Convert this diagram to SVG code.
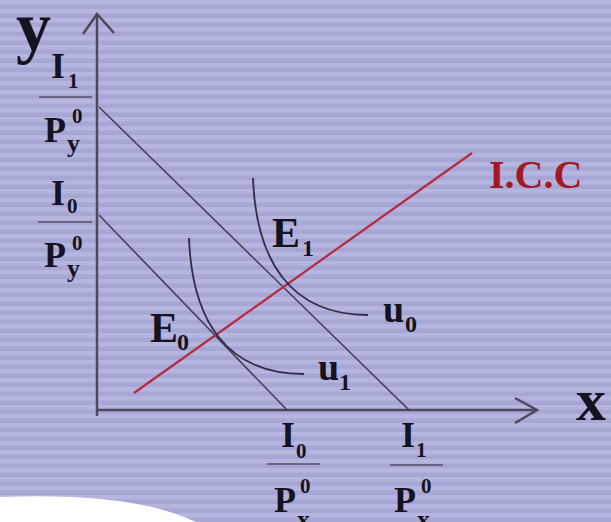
<svg xmlns="http://www.w3.org/2000/svg" width="611" height="522" viewBox="0 0 611 522">
  <defs>
    <pattern id="stripes" x="0" y="0" width="611" height="9" patternUnits="userSpaceOnUse">
      <rect x="0" y="0" width="611" height="9" fill="#b5b5df"/>
      <rect x="0" y="4.5" width="611" height="4.5" fill="#a7a7d6"/>
    </pattern>
  </defs>
  <style>
    .t { font-family: "Liberation Serif", "Times New Roman", serif; font-weight: bold; fill: #141420; }
    .big { font-size: 36px; }
    .sub { font-size: 21px; }
    .sub2 { font-size: 26px; }
    .lab { font-size: 42px; }
    .ax { stroke: #4a4a5c; stroke-width: 2.5; fill: none; }
    .bl { stroke: #3c3c56; stroke-width: 1.5; fill: none; }
    .ic { stroke: #2e2e48; stroke-width: 1.8; fill: none; }
    .bar { stroke: #505068; stroke-width: 1.6; }
  </style>
  <rect width="611" height="522" fill="url(#stripes)"/>
  <path d="M0,497 C80,494 150,500 196,522 L0,522 Z" fill="#ffffff"/>

  <g id="connectors">
    <g id="y-axis">
      <line class="ax" x1="97" y1="14" x2="97" y2="416"/>
      <polyline class="ax" points="83,34 97,14 114,33"/>
    </g>
    <g id="x-axis">
      <line class="ax" x1="97" y1="410" x2="536" y2="410"/>
      <polyline class="ax" points="515,398 537,410 515,423"/>
    </g>
    <line id="budget1" class="bl" x1="99" y1="107" x2="409" y2="410"/>
    <line id="budget0" class="bl" x1="99" y1="215" x2="287" y2="410"/>
    <line id="icc-line" x1="134" y1="393" x2="472" y2="153" stroke="#b52a3c" stroke-width="2.2"/>
    <path id="u0-curve" class="ic" d="M253,178 C256,260 290,315 368,315"/>
    <path id="u1-curve" class="ic" d="M189,238 C192,320 226,374 304,374"/>
  </g>

  <g id="label-y"><text class="t" x="16" y="50" font-size="70">y</text></g>
  <g id="label-x"><text class="t" x="576" y="420" font-size="60">x</text></g>

  <g id="frac-I1-Py">
    <text class="t big" x="51" y="78">I</text>
    <text class="t sub" x="68" y="88">1</text>
    <line class="bar" x1="39" y1="97" x2="92" y2="97"/>
    <text class="t big" x="44" y="142">P</text>
    <text class="t sub" x="72" y="123">0</text>
    <text class="t sub2" x="67" y="152">y</text>
  </g>
  <g id="frac-I0-Py">
    <text class="t big" x="51" y="205">I</text>
    <text class="t sub" x="67" y="213">0</text>
    <line class="bar" x1="38" y1="222" x2="92" y2="222"/>
    <text class="t big" x="44" y="267">P</text>
    <text class="t sub" x="72" y="250">0</text>
    <text class="t sub2" x="67" y="277">y</text>
  </g>
  <g id="frac-I0-Px">
    <text class="t big" x="281" y="447">I</text>
    <text class="t sub" x="296" y="458">0</text>
    <line class="bar" x1="267" y1="464" x2="320" y2="464"/>
    <text class="t big" x="274" y="512">P</text>
    <text class="t sub" x="300" y="493">0</text>
    <text class="t sub2" x="297" y="528">x</text>
  </g>
  <g id="frac-I1-Px">
    <text class="t big" x="401" y="447">I</text>
    <text class="t sub" x="416" y="457">1</text>
    <line class="bar" x1="390" y1="465" x2="443" y2="465"/>
    <text class="t big" x="394" y="512">P</text>
    <text class="t sub" x="421" y="493">0</text>
    <text class="t sub2" x="417" y="528">x</text>
  </g>

  <g id="E1">
    <text class="t lab" x="272" y="247">E</text>
    <text class="t" x="302" y="256" font-size="24">1</text>
  </g>
  <g id="E0">
    <text class="t lab" x="150" y="342">E</text>
    <text class="t" x="177" y="350" font-size="24">0</text>
  </g>
  <g id="u0">
    <text class="t" x="383" y="322" font-size="38">u</text>
    <text class="t" x="405" y="332" font-size="24">0</text>
  </g>
  <g id="u1">
    <text class="t" x="318" y="380" font-size="38">u</text>
    <text class="t" x="339" y="390" font-size="24">1</text>
  </g>
  <g id="ICC">
    <text class="t" x="489" y="188" font-size="40" style="fill:#a31822">I.C.C</text>
  </g>
</svg>
